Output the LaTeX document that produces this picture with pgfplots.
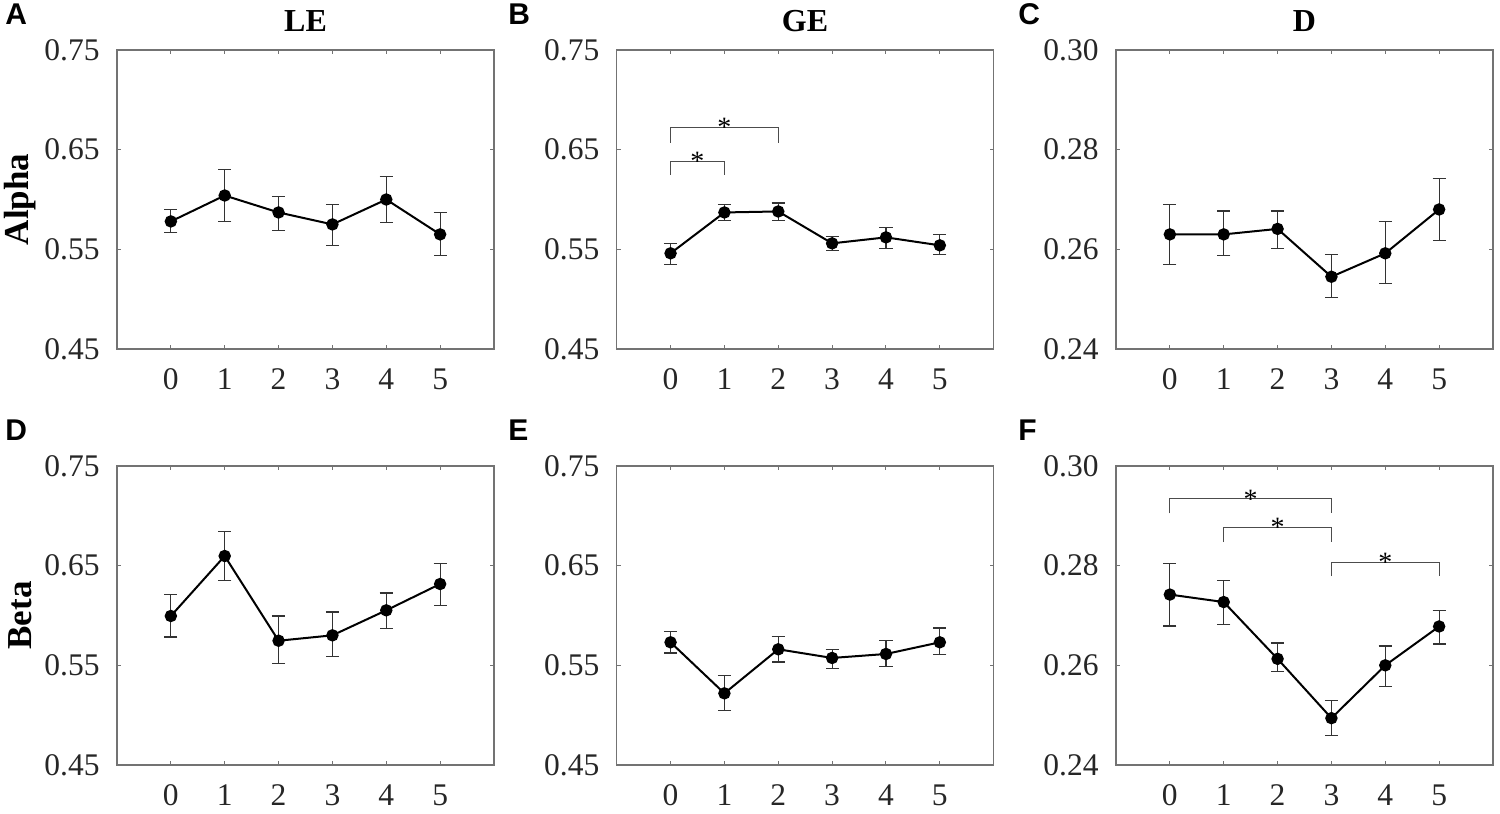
\documentclass[border=0pt]{standalone}
\usepackage{fontspec}
\setmainfont{Liberation Serif}
\newfontfamily\lsans{Liberation Sans}
\usepackage{pgfplots}
\pgfplotsset{compat=1.18}
\pgfplotsset{
  panel/.style={
    scale only axis, width=188.5pt, height=149.5pt,
    anchor=south west, clip=false,
    xmin=-1, xmax=6, xtick={0,1,2,3,4,5}, xticklabels={0,1,2,3,4,5},
    axis line style={draw=black!55, line width=0.6pt},
    tick style={draw=black!55, line width=0.5pt},
    major tick length=2pt, tick align=inside, tick pos=both,
    ticklabel style={font=\fontsize{15.75}{16}\selectfont, text=black!85, inner sep=0pt},
    yticklabel style={anchor=east, xshift=-8.5pt},
    xticklabel style={anchor=north, yshift=-9.5pt},
    /pgf/number format/assume math mode=true,
  },
  panelA/.style={panel, ymin=0.45, ymax=0.75, ytick={0.45,0.55,0.65,0.75}, yticklabels={0.45,0.55,0.65,0.75}},
  panelC/.style={panel, ymin=0.24, ymax=0.30, ytick={0.24,0.26,0.28,0.30}, yticklabels={0.24,0.26,0.28,0.30}},
  series/.style={black, line width=1pt, mark=*, mark size=2.6pt, mark options={fill=black, solid},
    error bars/.cd, y dir=both, y explicit,
    error bar style={black!80, line width=0.6pt},
    error mark options={rotate=90, black!80, mark size=3.3pt, line width=0.6pt}},
  bracket/.style={draw=black!70, line width=0.6pt, no marks},
}
\newcommand{\sigstar}[2]{\node[anchor=base, inner sep=0pt, yshift=-4.6pt, font=\fontsize{14}{14}\selectfont] at (axis cs:#1,#2) {*};}
\begin{document}
\begin{tikzpicture}
\path[use as bounding box] (0,0) rectangle (750pt,407pt);
% ---------- A ----------
\begin{axis}[panelA, at={(58.5pt,232.5pt)}]
\addplot[series] coordinates {
 (0,0.578) += (0,0.012) -= (0,0.011)
 (1,0.604) += (0,0.026) -= (0,0.026)
 (2,0.587) += (0,0.016) -= (0,0.018)
 (3,0.575) += (0,0.020) -= (0,0.021)
 (4,0.600) += (0,0.023) -= (0,0.023)
 (5,0.565) += (0,0.022) -= (0,0.021)
};
\end{axis}
% ---------- B ----------
\begin{axis}[panelA, at={(308.35pt,232.5pt)}]
\addplot[series] coordinates {
 (0,0.546) += (0,0.010) -= (0,0.011)
 (1,0.587) += (0,0.008) -= (0,0.008)
 (2,0.588) += (0,0.0085) -= (0,0.009)
 (3,0.556) += (0,0.007) -= (0,0.007)
 (4,0.562) += (0,0.010) -= (0,0.011)
 (5,0.554) += (0,0.0105) -= (0,0.009)
};
\addplot[bracket] coordinates {(0,0.657) (0,0.672) (2,0.672) (2,0.657)};
\addplot[bracket] coordinates {(0,0.6246) (0,0.638) (1,0.638) (1,0.6246)};
\sigstar{1}{0.672}
\sigstar{0.5}{0.638}
\end{axis}
% ---------- C ----------
\begin{axis}[panelC, at={(558pt,232.5pt)}]
\addplot[series] coordinates {
 (0,0.2630) += (0,0.0060) -= (0,0.0060)
 (1,0.2630) += (0,0.0047) -= (0,0.0043)
 (2,0.2641) += (0,0.0036) -= (0,0.0039)
 (3,0.2545) += (0,0.0044) -= (0,0.0041)
 (4,0.2592) += (0,0.0064) -= (0,0.0061)
 (5,0.2680) += (0,0.0062) -= (0,0.0063)
};
\end{axis}
% ---------- D ----------
\begin{axis}[panelA, at={(58.5pt,24.5pt)}]
\addplot[series] coordinates {
 (0,0.5995) += (0,0.0218) -= (0,0.0211)
 (1,0.6597) += (0,0.0244) -= (0,0.0244)
 (2,0.5747) += (0,0.0248) -= (0,0.0230)
 (3,0.5801) += (0,0.0234) -= (0,0.0211)
 (4,0.6052) += (0,0.0174) -= (0,0.0181)
 (5,0.6316) += (0,0.0207) -= (0,0.0217)
};
\end{axis}
% ---------- E ----------
\begin{axis}[panelA, at={(308.35pt,24.5pt)}]
\addplot[series] coordinates {
 (0,0.5731) += (0,0.0107) -= (0,0.0107)
 (1,0.5219) += (0,0.0177) -= (0,0.0174)
 (2,0.5661) += (0,0.0127) -= (0,0.0127)
 (3,0.5574) += (0,0.0083) -= (0,0.0107)
 (4,0.5614) += (0,0.0137) -= (0,0.0127)
 (5,0.5731) += (0,0.0144) -= (0,0.0121)
};
\end{axis}
% ---------- F ----------
\begin{axis}[panelC, at={(558pt,24.5pt)}]
\addplot[series] coordinates {
 (0,0.2742) += (0,0.0063) -= (0,0.0063)
 (1,0.2727) += (0,0.0044) -= (0,0.0045)
 (2,0.2613) += (0,0.0032) -= (0,0.0026)
 (3,0.2494) += (0,0.0036) -= (0,0.0035)
 (4,0.2600) += (0,0.0039) -= (0,0.0042)
 (5,0.2678) += (0,0.0032) -= (0,0.0035)
};
\addplot[bracket] coordinates {(0,0.2905) (0,0.2934) (3,0.2934) (3,0.2905)};
\addplot[bracket] coordinates {(1,0.2847) (1,0.2877) (3,0.2877) (3,0.2847)};
\addplot[bracket] coordinates {(3,0.2779) (3,0.2807) (5,0.2807) (5,0.2779)};
\sigstar{1.5}{0.2934}
\sigstar{2}{0.2877}
\sigstar{4}{0.2807}
\end{axis}
% ---------- titles, labels, panel letters ----------
\begin{scope}[every node/.style={inner sep=0pt}]
\node[anchor=base, font=\fontsize{16}{16}\selectfont\bfseries] at (152.75pt,391.2pt) {LE};
\node[anchor=base, font=\fontsize{16}{16}\selectfont\bfseries] at (402.5pt,391.2pt) {GE};
\node[anchor=base, font=\fontsize{16}{16}\selectfont\bfseries] at (652.25pt,391.2pt) {D};
\node[rotate=90, anchor=center, font=\fontsize{17.5}{17.5}\selectfont\bfseries] at (9.9pt,307.25pt) {Alpha};
\node[rotate=90, anchor=center, font=\fontsize{17.5}{17.5}\selectfont\bfseries] at (9.9pt,99.25pt) {Beta};
\node[anchor=base west, font=\lsans\fontsize{15}{15}\selectfont\bfseries] at (2.5pt,394.5pt) {A};
\node[anchor=base west, font=\lsans\fontsize{15}{15}\selectfont\bfseries] at (254pt,394.5pt) {B};
\node[anchor=base west, font=\lsans\fontsize{15}{15}\selectfont\bfseries] at (509pt,394.5pt) {C};
\node[anchor=base west, font=\lsans\fontsize{15}{15}\selectfont\bfseries] at (2.5pt,186.5pt) {D};
\node[anchor=base west, font=\lsans\fontsize{15}{15}\selectfont\bfseries] at (254pt,186.5pt) {E};
\node[anchor=base west, font=\lsans\fontsize{15}{15}\selectfont\bfseries] at (509pt,186.5pt) {F};
\end{scope}
\end{tikzpicture}
\end{document}
